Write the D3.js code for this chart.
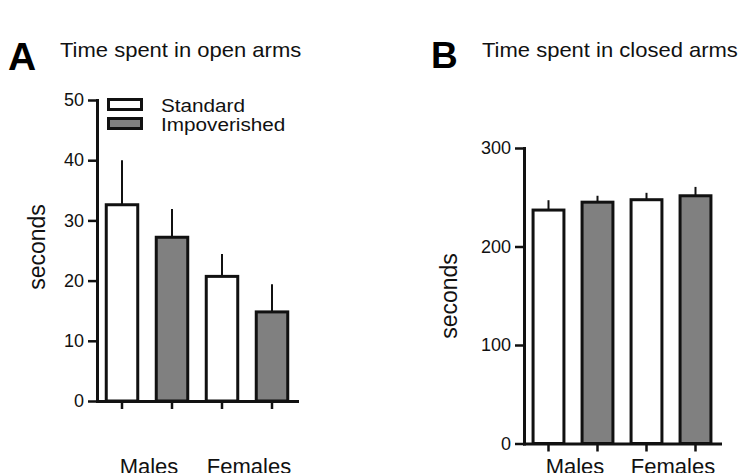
<!DOCTYPE html>
<html>
<head>
<meta charset="utf-8">
<script src="https://cdn.jsdelivr.net/npm/d3@7"></script>
<style>
  html, body { margin: 0; padding: 0; background: #fff; }
  svg { display: block; }
  text { font-family: "Liberation Sans", Arial, sans-serif; fill: #111; }
</style>
</head>
<body>
<svg id="chart" width="746" height="473"></svg>
<script>
// values (mean, upward SEM)
var groups = ['Males', 'Females'];
var conditions = ['Standard', 'Impoverished'];
var bars = ['Males-Standard', 'Males-Impoverished', 'Females-Standard', 'Females-Impoverished'];

var openMean = [32.6, 27.2, 20.7, 14.8];
var openErr = [7.4, 4.7, 3.7, 4.6];
var openTicks = [0, 10, 20, 30, 40, 50];

var closedMean = [237, 245, 247.5, 251.5];
var closedErr = [10, 6.5, 7, 9];
var closedTicks = [0, 100, 200, 300];

var fills = { Standard: '#ffffff', Impoverished: '#808080' };

var svg = d3.select('#chart');

// text in the original is a bit wider than Arial, stretch it a little
function stretchedText(g, x, y, sx, str) {
    return g.append('text')
        .attr('transform', 'translate(' + x + ',' + y + ') scale(' + sx + ',1)')
        .text(str)
}

function drawPanel(opts) {
    var g = svg.append('g');

    var x = d3.scaleBand()
        .domain(bars)
        .range([opts.left, opts.right])
        .paddingInner(0.37)
        .paddingOuter(0.185);

    var xg = d3.scaleBand()
        .domain(groups)
        .range([opts.left, opts.right]);

    var y = d3.scaleLinear()
        .domain([0, opts.max])
        .range([opts.bottom, opts.top]);

    // letter + title
    g.append('text')
        .attr('x', opts.letterX)
        .attr('y', opts.letterY)
        .style('font-size', opts.letterSize + 'px')
        .style('font-weight', 'bold')
        .style('fill', '#000')
        .text(opts.letter);
    stretchedText(g, opts.titleX, 57, 1.1, opts.title)
        .style('font-size', '20px');

    // error bars (upward only)
    g.selectAll('line.err')
        .data(opts.mean)
        .enter().append('line')
        .attr('class', 'err')
        .attr('x1', function(d, i) { return x(bars[i]) + x.bandwidth() / 2 })
        .attr('x2', function(d, i) { return x(bars[i]) + x.bandwidth() / 2 })
        .attr('y1', function(d) { return y(d) })
        .attr('y2', function(d, i) { return y(d + opts.err[i]) })
        .attr('stroke', '#111')
        .attr('stroke-width', 2);

    g.selectAll('rect.bar')
        .data(opts.mean)
        .enter().append('rect')
        .attr('class', 'bar')
        .attr('x', function(d, i) { return x(bars[i]) })
        .attr('y', function(d) { return y(d) })
        .attr('width', x.bandwidth())
        .attr('height', function(d) { return y(0) - y(d) })
        .attr('fill', function(d, i) { return fills[bars[i].split('-')[1]] })
        .attr('stroke', '#111')
        .attr('stroke-width', 3);

    // axes
    var yAxis = g.append('g')
        .attr('transform', 'translate(' + opts.left + ',0)')
        .call(d3.axisLeft(y)
            .tickValues(opts.ticks)
            .tickSize(9)
            .tickSizeOuter(0)
            .tickPadding(4));

    var xAxis = g.append('g')
        .attr('transform', 'translate(0,' + y(0) + ')')
        .call(d3.axisBottom(x)
            .tickFormat('')
            .tickSize(8)
            .tickSizeOuter(0));

    [yAxis, xAxis].forEach(function(a) {
        a.select('.domain')
            .attr('stroke', '#111')
            .attr('stroke-width', 3)
            .attr('stroke-linecap', 'square');
        a.selectAll('.tick line')
            .attr('stroke', '#111')
            .attr('stroke-width', 2.5);
    });
    yAxis.selectAll('.tick text')
        .style('font-size', '18px')
        .style('font-family', '"Liberation Sans", Arial, sans-serif')
        .attr('fill', '#111');

    // group labels
    g.selectAll('text.grp')
        .data(groups)
        .enter().append('text')
        .attr('class', 'grp')
        .attr('x', function(d) { return xg(d) + xg.bandwidth() / 2 + 2 })
        .attr('y', 474)
        .attr('text-anchor', 'middle')
        .style('font-size', '22px')
        .text(function(d) { return d });

    // y title
    g.append('text')
        .attr('transform', 'translate(' + opts.labelX + ',' + opts.labelY + ') rotate(-90)')
        .attr('text-anchor', 'middle')
        .style('font-size', '23px')
        .text('seconds');

    return g
}

var panelA = drawPanel({
    left: 97, right: 297, top: 100, bottom: 401, max: 50,
    mean: openMean, err: openErr, ticks: openTicks,
    letter: 'A', letterX: 8, letterY: 70, letterSize: 39,
    title: 'Time spent in open arms', titleX: 60,
    labelX: 45, labelY: 247
});

drawPanel({
    left: 524, right: 720, top: 148, bottom: 443.5, max: 300,
    mean: closedMean, err: closedErr, ticks: closedTicks,
    letter: 'B', letterX: 431, letterY: 68, letterSize: 37,
    title: 'Time spent in closed arms', titleX: 482,
    labelX: 457, labelY: 296
});

// legend, only in panel A
var legend = panelA.selectAll('g.legend')
    .data(conditions)
    .enter().append('g')
    .attr('class', 'legend')
    .attr('transform', function(d, i) { return 'translate(108.5,' + (99.5 + i * 19) + ')' });

legend.append('rect')
    .attr('width', 33)
    .attr('height', 10)
    .attr('fill', function(d) { return fills[d] })
    .attr('stroke', '#111')
    .attr('stroke-width', 3);

legend.each(function(d) {
    stretchedText(d3.select(this), 52.5, 12.5, 1.12, d)
        .style('font-size', '18.5px');
});
</script>
</body>
</html>
